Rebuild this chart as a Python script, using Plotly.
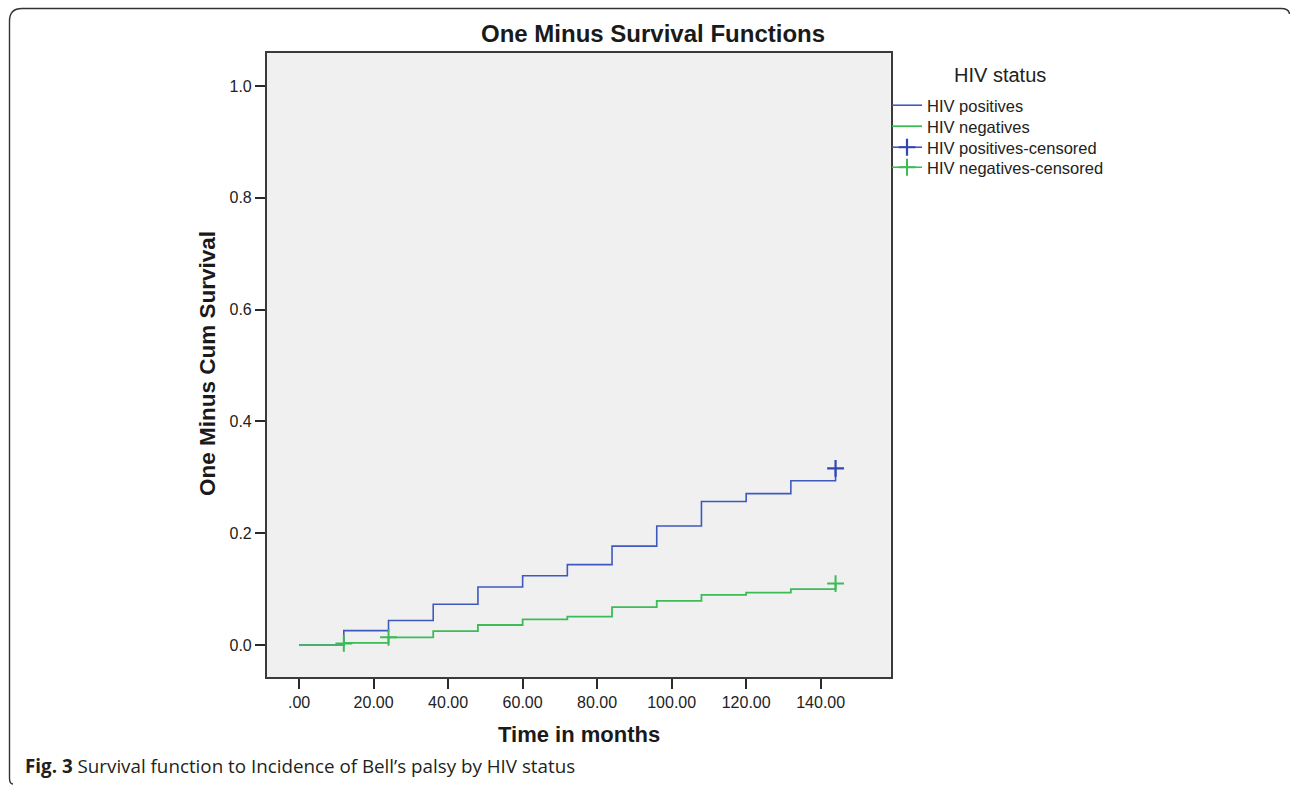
import plotly.graph_objects as go

# ---- data ----
months = [0, 12, 24, 36, 48, 60, 72, 84, 96, 108, 120, 132, 144]
hiv_pos = [0.0, 0.026, 0.044, 0.073, 0.104, 0.124, 0.144, 0.177, 0.213, 0.257, 0.271, 0.294, 0.316]
hiv_neg = [0.0, 0.004, 0.014, 0.025, 0.036, 0.046, 0.051, 0.068, 0.079, 0.090, 0.094, 0.100, 0.110]
pos_cens_x = [144]
pos_cens_y = [0.316]
neg_cens_x = [12, None, 24, None, 144]
neg_cens_y = [0.003, None, 0.014, None, 0.110]
x_ticks = [0, 20, 40, 60, 80, 100, 120, 140]
x_ticktext = [".00", "20.00", "40.00", "60.00", "80.00", "100.00", "120.00", "140.00"]
y_ticks = [0.0, 0.2, 0.4, 0.6, 0.8, 1.0]
y_ticktext = ["0.0", "0.2", "0.4", "0.6", "0.8", "1.0"]

W, H = 1290, 785
BLUE = "#3f58c0"
BLUE_DARK = "#2f46b4"
GREEN = "#3dbb57"
FONT = "'Liberation Sans', Arial, sans-serif"
CAPFONT = "'Open Sans', 'Noto Sans', sans-serif"

def px(x):
    return x / W

def py(y):
    return 1 - y / H

fig = go.Figure()
fig.add_trace(go.Scatter(x=months, y=hiv_pos, mode="lines", line=dict(shape="hv", color=BLUE, width=1.6),
                         name="HIV positives", legend="legend"))
fig.add_trace(go.Scatter(x=months, y=hiv_neg, mode="lines", line=dict(shape="hv", color=GREEN, width=1.8),
                         name="HIV negatives", legend="legend2"))
fig.add_trace(go.Scatter(x=pos_cens_x, y=pos_cens_y, mode="lines+markers", line=dict(color=BLUE, width=1.6),
                         marker=dict(symbol="cross-thin", size=12, line=dict(width=2.2, color=BLUE_DARK)),
                         connectgaps=False, name="HIV positives-censored", legend="legend3"))
fig.add_trace(go.Scatter(x=neg_cens_x, y=neg_cens_y, mode="lines+markers", line=dict(color=GREEN, width=1.6),
                         marker=dict(symbol="cross-thin", size=12, line=dict(width=2, color=GREEN)),
                         connectgaps=False, name="HIV negatives-censored", legend="legend4"))

axis_common = dict(showgrid=False, zeroline=False, showline=True, mirror=True, linecolor="#3a3a3a",
                   linewidth=1.5, ticks="outside", ticklen=10, tickwidth=2, tickcolor="#2a2a2a",
                   tickfont=dict(family=FONT, size=16, color="#222222"))

legend_font = dict(family=FONT, size=16.5, color="#222222")
LEG_X = 887

def item_legend(ycenter):
    return dict(x=px(LEG_X), y=py(ycenter - 18), xanchor="left", yanchor="top", bgcolor="rgba(0,0,0,0)",
                font=legend_font, borderwidth=0)

fig.update_layout(
    width=W, height=H,
    margin=dict(l=0, r=0, t=0, b=0),
    paper_bgcolor="white", plot_bgcolor="#f0f0f0",
    xaxis=dict(domain=[px(266.7), px(890.7)], range=[-8.7, 158.8], tickvals=x_ticks, ticktext=x_ticktext,
               **axis_common),
    yaxis=dict(domain=[py(677), py(53)], range=[-0.057, 1.059], tickvals=y_ticks, ticktext=y_ticktext,
               **axis_common),
    showlegend=True,
    legend=item_legend(106),
    legend2=item_legend(127),
    legend3=item_legend(148),
    legend4=item_legend(168),
    annotations=[
        dict(text="<b>One Minus Survival Functions</b>", x=px(653), y=py(34), xref="paper", yref="paper",
             showarrow=False, font=dict(family=FONT, size=24, color="#1a1a1a"), xanchor="center", yanchor="middle"),
        dict(text="HIV status", x=px(1000), y=py(75), xref="paper", yref="paper",
             showarrow=False, font=dict(family=FONT, size=20, color="#222222"), xanchor="center", yanchor="middle"),
        dict(text="<b>One Minus Cum Survival</b>", x=px(207), y=py(364), xref="paper", yref="paper",
             showarrow=False, textangle=-90, font=dict(family=FONT, size=22.5, color="#1a1a1a"),
             xanchor="center", yanchor="middle"),
        dict(text="<b>Time in months</b>", x=px(579), y=py(734), xref="paper", yref="paper",
             showarrow=False, font=dict(family=FONT, size=22, color="#1a1a1a"), xanchor="center", yanchor="middle"),
        dict(text="<b>Fig. 3</b> Survival function to Incidence of Bell\u2019s palsy by HIV status",
             x=px(23), y=py(766), xref="paper", yref="paper", showarrow=False,
             font=dict(family=CAPFONT, size=18.8, color="#231f20"),
             xanchor="left", yanchor="middle"),
    ],
    shapes=[
        dict(type="path", xref="paper", yref="paper",
             path=(f"M {px(13)},{py(784)} Q {px(9.5)},{py(784)} {px(9.5)},{py(778)} "
                   f"L {px(9.5)},{py(21)} Q {px(9.5)},{py(8.5)} {px(22)},{py(8.5)} "
                   f"L {px(1281)},{py(8.5)} Q {px(1289)},{py(8.5)} {px(1289.5)},{py(14)}"),
             line=dict(color="#333333", width=1.4)),
    ],
)

fig.write_html("out.html")
